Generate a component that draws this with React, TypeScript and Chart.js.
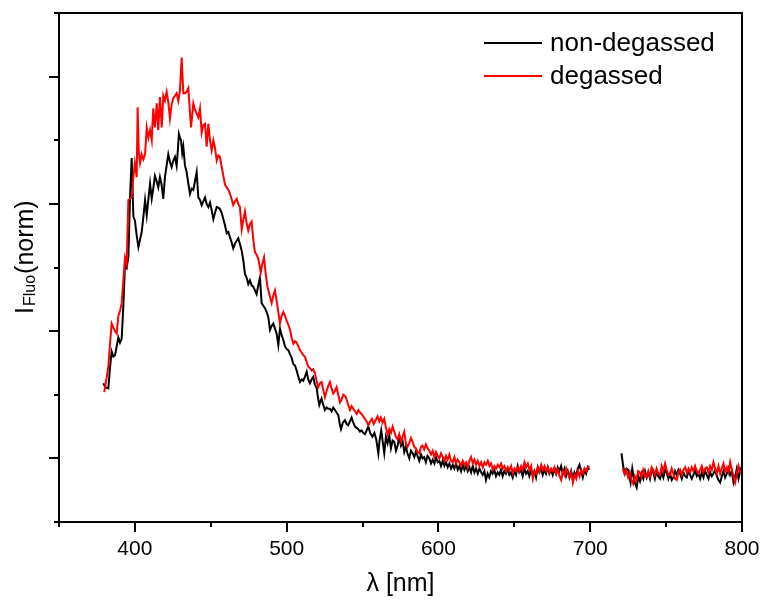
import React, { useEffect, useRef } from 'react';
import { Chart, registerables } from 'chart.js';

Chart.register(...registerables);

const seriesLabels = ['non-degassed', 'degassed'];
const seriesColors = ['#000000', '#ff0000'];

const nonDegassedNm = [
  379.2, 380.5, 382.5, 383.5, 384.7, 385.8, 386.9, 388.0, 389.1, 390.2, 391.3, 392.4, 393.5, 394.6, 395.7, 396.8, 397.9, 399.0, 400.0, 401.2,
  402.3, 403.4, 404.5, 405.6, 406.7, 407.8, 409.0, 410.0, 411.1, 412.1, 413.2, 414.3, 415.4, 416.5, 417.6, 418.7, 419.8, 420.9, 422.0, 423.1,
  424.2, 425.3, 426.4, 427.5, 428.3, 429.0, 429.7, 430.4, 431.2, 431.9, 433.0, 434.1, 435.2, 436.3, 437.4, 438.5, 439.6, 440.7, 441.8, 442.9,
  444.0, 445.1, 446.2, 447.3, 448.4, 449.5, 450.6, 451.7, 452.8, 453.9, 455.0, 456.0, 457.2, 458.3, 459.4, 460.5, 461.6, 462.6, 463.7, 464.8,
  466.0, 467.1, 468.1, 469.3, 470.4, 471.5, 472.5, 473.6, 474.7, 475.8, 476.9, 478.0, 479.1, 480.2, 481.3, 482.4, 483.5, 484.6, 485.7, 486.8,
  487.9, 489.0, 490.1, 491.2, 492.3, 493.4, 494.5, 495.6, 496.7, 497.8, 498.9, 500.0, 501.1, 502.2, 503.3, 504.4, 505.5, 506.6, 507.7, 508.8,
  509.9, 510.9, 512.0, 513.2, 514.2, 515.3, 516.4, 517.5, 518.6, 519.8, 520.6, 521.5, 522.3, 523.0, 524.1, 525.2, 526.3, 527.4, 528.5, 529.6,
  530.7, 531.8, 532.9, 534.0, 535.0, 535.8, 537.0, 538.4, 539.5, 540.6, 541.7, 542.8, 543.9, 545.0, 546.1, 547.2, 548.3, 549.4, 550.5, 551.6,
  552.7, 553.8, 555.0, 556.5, 557.8, 559.0, 560.4, 561.2, 562.3, 563.4, 564.3, 565.4, 566.5, 567.6, 568.7, 569.8, 570.9, 572.0, 573.1, 574.2,
  575.3, 576.4, 577.5, 578.5, 579.6, 580.8, 581.9, 583.0, 584.1, 585.1, 586.2, 587.4, 588.5, 589.5, 590.6, 591.7, 592.8, 594.0, 595.1, 596.2,
  597.3, 598.4, 599.5, 600.6, 601.7, 602.8, 603.9, 605.0, 606.1, 607.2, 608.3, 609.4, 610.5, 611.6, 612.7, 613.8, 614.9, 616.0, 617.1, 618.2,
  619.3, 620.4, 621.5, 622.6, 623.7, 624.8, 625.9, 627.0, 628.1, 629.2, 630.3, 631.3, 632.4, 633.5, 634.6, 635.7, 636.8, 637.9, 639.0, 640.1,
  641.2, 642.3, 643.4, 644.5, 645.6, 646.7, 647.8, 648.9, 650.0, 651.1, 652.2, 653.3, 654.4, 655.5, 656.6, 657.7, 658.8, 659.9, 661.0, 662.1,
  663.2, 664.3, 665.4, 666.5, 667.6, 668.7, 669.8, 670.9, 672.0, 673.1, 674.2, 675.3, 676.4, 677.5, 678.6, 679.7, 680.8, 681.9, 683.0, 684.1,
  685.2, 686.3, 687.4, 688.5, 689.6, 690.7, 691.8, 692.9, 694.0, 695.1, 696.2, 697.3, 698.4, 699.4, 710.0,
  720.6, 721.7, 722.8, 723.9, 725.0, 725.8, 726.6, 727.7, 728.5, 729.6, 730.6, 731.7, 732.8, 733.9, 735.0, 736.1, 737.2, 738.3, 739.4, 740.5,
  741.5, 742.6, 743.7, 744.8, 746.0, 747.1, 748.2, 749.3, 750.4, 751.5, 752.6, 753.7, 754.8, 755.9, 757.0, 758.1, 759.2, 760.3, 761.4, 762.5,
  763.6, 764.7, 765.8, 766.9, 768.0, 769.1, 770.2, 771.3, 772.4, 773.5, 774.6, 775.7, 776.8, 777.9, 779.0, 780.1, 781.2, 782.3, 783.4, 784.5,
  785.6, 786.7, 787.8, 788.9, 790.0, 791.1, 792.2, 793.3, 794.4, 795.5, 796.6, 797.7, 798.8, 799.9,
];
const nonDegassedVal = [
  0.59, 0.56, 0.55, 0.70, 0.84, 0.80, 0.81, 0.88, 0.95, 0.91, 0.94, 1.20, 1.53, 1.50, 1.58, 2.05, 2.36, 1.90, 1.87, 1.75,
  1.66, 1.72, 1.78, 1.90, 2.03, 1.91, 2.05, 2.16, 2.04, 2.12, 2.22, 2.18, 2.13, 2.21, 2.15, 2.04, 2.21, 2.30, 2.39, 2.33,
  2.29, 2.34, 2.37, 2.30, 2.42, 2.55, 2.52, 2.50, 2.40, 2.45, 2.30, 2.25, 2.16, 2.08, 2.12, 2.11, 2.18, 2.25, 2.05, 2.03,
  1.99, 2.02, 2.05, 2.00, 1.975, 2.01, 1.95, 1.88, 1.93, 1.975, 1.97, 1.96, 1.93, 1.88, 1.83, 1.77, 1.78, 1.74, 1.70, 1.65,
  1.69, 1.71, 1.73, 1.68, 1.63, 1.55, 1.45, 1.42, 1.37, 1.40, 1.36, 1.35, 1.32, 1.29, 1.36, 1.42, 1.22, 1.20, 1.18, 1.15,
  1.11, 1.01, 1.04, 1.06, 1.02, 0.98, 0.89, 1.02, 0.97, 0.93, 0.88, 0.86, 0.85, 0.82, 0.79, 0.74, 0.73, 0.69, 0.64, 0.60,
  0.62, 0.61, 0.64, 0.68, 0.62, 0.59, 0.62, 0.64, 0.58, 0.55, 0.48, 0.42, 0.45, 0.47, 0.42, 0.38, 0.40, 0.39, 0.39, 0.37,
  0.40, 0.38, 0.36, 0.34, 0.27, 0.23, 0.28, 0.30, 0.27, 0.26, 0.29, 0.32, 0.28, 0.25, 0.24, 0.23, 0.21, 0.22, 0.20, 0.19,
  0.22, 0.25, 0.20, 0.17, 0.20, 0.15, 0.04, 0.14, 0.22, 0.12, 0.04, 0.17, 0.12, 0.18, 0.08, 0.14, 0.13, 0.06, 0.10, 0.17,
  0.10, 0.13, 0.05, 0.09, 0.04, 0.00, 0.06, 0.04, 0.01, 0.05, 0.02, -0.02, 0.03, 0.00, 0.01, -0.03, 0.02, 0.00, -0.04, -0.01,
  -0.04, 0.01, -0.03, -0.02, -0.06, -0.02, -0.06, -0.03, -0.07, -0.04, -0.08, -0.05, -0.08, -0.04, -0.09, -0.06, -0.10, -0.05, -0.09, -0.06,
  -0.10, -0.07, -0.11, -0.06, -0.11, -0.08, -0.12, -0.08, -0.11, -0.13, -0.10, -0.17, -0.12, -0.15, -0.10, -0.12, -0.09, -0.14, -0.11, -0.13,
  -0.09, -0.14, -0.10, -0.12, -0.08, -0.13, -0.11, -0.15, -0.10, -0.13, -0.06, -0.11, -0.09, -0.14, -0.08, -0.12, -0.10, -0.14, -0.09, -0.13,
  -0.10, -0.15, -0.07, -0.11, -0.08, -0.13, -0.09, -0.12, -0.07, -0.12, -0.09, -0.13, -0.08, -0.12, -0.07, -0.10, -0.06, -0.12, -0.08, -0.14,
  -0.10, -0.15, -0.10, -0.16, -0.11, -0.14, -0.08, -0.05, -0.10, -0.15, -0.09, -0.12, -0.07, -0.09, null,
  0.04, -0.06, -0.12, -0.08, -0.09, -0.14, -0.19, -0.08, -0.14, -0.20, -0.23, -0.14, -0.18, -0.12, -0.16, -0.10, -0.15, -0.11, -0.16, -0.09,
  -0.11, -0.16, -0.10, -0.14, -0.16, -0.11, -0.15, -0.09, -0.11, -0.16, -0.12, -0.17, -0.15, -0.10, -0.13, -0.09, -0.12, -0.16, -0.11, -0.14,
  -0.15, -0.10, -0.13, -0.16, -0.13, -0.09, -0.14, -0.12, -0.16, -0.11, -0.15, -0.10, -0.13, -0.16, -0.11, -0.14, -0.12, -0.09, -0.14, -0.17,
  -0.19, -0.14, -0.10, -0.15, -0.12, -0.08, -0.13, -0.10, -0.19, -0.14, -0.08, -0.16, -0.10, -0.06,
];

const degassedNm = [
  379.8, 381.2, 382.5, 383.6, 384.7, 385.8, 386.9, 388.0, 389.1, 390.2, 391.3, 392.4, 393.5, 394.6, 395.7, 396.8, 397.9, 399.0, 400.0, 401.2,
  401.8, 402.6, 403.4, 404.5, 405.6, 406.7, 407.8, 408.9, 410.0, 411.1, 412.1, 413.2, 414.4, 415.4, 416.5, 417.7, 418.7, 419.8, 420.9, 422.0,
  423.1, 424.2, 425.3, 426.4, 427.5, 428.6, 429.7, 430.8, 431.9, 433.0, 434.1, 435.2, 436.1, 437.0, 437.8, 438.5, 439.6, 440.7, 441.8, 442.9,
  444.0, 445.1, 446.2, 447.3, 448.4, 449.5, 450.6, 451.7, 452.8, 453.9, 455.0, 456.0, 457.2, 458.3, 459.4, 460.5, 461.6, 462.6, 463.7, 464.8,
  466.0, 467.1, 468.1, 469.2, 470.4, 471.5, 472.5, 473.6, 474.7, 475.8, 476.9, 478.0, 479.1, 480.2, 481.3, 482.1, 482.9, 484.0, 485.1, 486.2,
  487.3, 488.4, 489.2, 490.1, 491.2, 492.3, 493.4, 494.5, 495.6, 496.7, 497.8, 498.9, 500.0, 501.1, 502.2, 503.3, 504.4, 505.5, 506.6, 507.7,
  508.8, 509.9, 511.0, 512.0, 513.1, 514.2, 515.3, 516.5, 517.5, 518.6, 519.7, 520.8, 521.9, 523.0, 524.1, 525.2, 526.3, 527.4, 528.5, 529.6,
  530.7, 531.8, 532.9, 534.0, 535.1, 536.2, 537.3, 538.4, 539.0, 540.6, 541.7, 542.8, 543.9, 545.0, 546.1, 547.2, 548.3, 549.4, 550.5, 551.6,
  552.7, 553.8, 555.0, 556.2, 557.4, 558.6, 559.9, 561.0, 562.1, 563.2, 564.3, 565.4, 566.5, 567.6, 568.7, 569.8, 570.9, 572.0, 573.1, 574.2,
  575.3, 576.4, 577.5, 578.5, 579.6, 580.8, 581.9, 583.0, 584.1, 585.1, 586.2, 587.4, 588.5, 589.5, 590.6, 591.7, 592.8, 594.0, 595.1, 596.2,
  597.3, 598.4, 599.5, 600.6, 601.7, 602.8, 603.9, 605.0, 606.1, 607.2, 608.3, 609.4, 610.5, 611.6, 612.7, 613.8, 614.9, 616.0, 617.1, 618.2,
  619.3, 620.4, 621.5, 622.6, 623.7, 624.8, 625.9, 627.0, 628.1, 629.2, 630.3, 631.4, 632.5, 633.6, 634.7, 635.8, 636.9, 638.0, 639.1, 640.2,
  641.3, 642.4, 643.5, 644.6, 645.7, 646.8, 647.9, 649.0, 650.1, 651.2, 652.3, 653.4, 654.5, 655.6, 656.7, 657.8, 658.9, 660.0, 661.1, 662.2,
  663.3, 664.4, 665.5, 666.6, 667.7, 668.8, 669.9, 671.0, 672.1, 673.2, 674.3, 675.4, 676.5, 677.6, 678.7, 679.8, 680.9, 682.0, 683.1, 684.2,
  685.3, 686.4, 687.5, 688.6, 689.7, 690.8, 691.9, 693.0, 694.1, 695.2, 696.3, 697.4, 698.5, 699.4, 710.0,
  721.4, 722.5, 723.6, 725.0, 726.1, 727.2, 728.3, 729.4, 730.5, 731.6, 732.7, 733.8, 734.9, 736.0, 737.2, 738.3, 739.4, 740.5, 741.5, 742.6,
  743.7, 744.8, 746.0, 747.1, 748.2, 749.3, 750.4, 751.5, 752.6, 753.7, 754.8, 755.9, 757.0, 758.1, 759.2, 760.3, 761.4, 762.5, 763.6, 764.7,
  765.8, 766.9, 768.0, 769.1, 770.2, 771.3, 772.4, 773.5, 774.6, 775.7, 776.8, 777.9, 779.0, 780.1, 781.2, 782.3, 783.4, 784.5, 785.6, 786.7,
  787.8, 788.9, 790.0, 791.1, 792.2, 793.3, 794.4, 795.5, 796.6, 797.7, 798.8, 799.9,
];
const degassedVal = [
  0.52, 0.62, 0.72, 0.90, 1.06, 1.03, 1.00, 0.98, 1.12, 1.16, 1.22, 1.40, 1.58, 1.53, 2.03, 2.04, 2.05, 2.21, 2.32, 2.21,
  2.76, 2.40, 2.32, 2.39, 2.35, 2.39, 2.60, 2.52, 2.58, 2.50, 2.75, 2.60, 2.79, 2.58, 2.84, 2.60, 2.85, 2.81, 2.88, 2.80,
  2.67, 2.78, 2.83, 2.85, 2.87, 2.81, 2.89, 3.15, 2.87, 2.87, 2.88, 2.91, 2.75, 2.60, 2.70, 2.79, 2.74, 2.71, 2.68, 2.75,
  2.56, 2.62, 2.63, 2.45, 2.63, 2.50, 2.42, 2.50, 2.44, 2.34, 2.38, 2.37, 2.29, 2.22, 2.15, 2.13, 2.11, 2.08, 2.04, 1.99,
  2.02, 2.04, 2.00, 1.975, 1.80, 1.88, 1.94, 1.85, 1.79, 1.84, 1.86, 1.72, 1.62, 1.60, 1.57, 1.52, 1.46, 1.53, 1.58, 1.45,
  1.35, 1.30, 1.26, 1.22, 1.28, 1.32, 1.24, 1.15, 1.06, 1.12, 1.15, 1.12, 1.08, 1.05, 1.01, 0.95, 0.90, 0.92, 0.91, 0.88,
  0.85, 0.83, 0.81, 0.80, 0.76, 0.72, 0.71, 0.69, 0.70, 0.67, 0.61, 0.56, 0.59, 0.60, 0.54, 0.48, 0.53, 0.57, 0.60, 0.55,
  0.51, 0.53, 0.56, 0.50, 0.44, 0.46, 0.50, 0.49, 0.48, 0.42, 0.38, 0.41, 0.39, 0.37, 0.35, 0.38, 0.36, 0.35, 0.33, 0.31,
  0.29, 0.26, 0.29, 0.31, 0.27, 0.30, 0.33, 0.29, 0.32, 0.28, 0.31, 0.24, 0.19, 0.23, 0.20, 0.25, 0.21, 0.17, 0.15, 0.19,
  0.13, 0.17, 0.21, 0.12, 0.09, 0.12, 0.16, 0.13, 0.09, 0.08, 0.05, 0.04, 0.09, 0.10, 0.07, 0.11, 0.08, 0.06, 0.03, 0.06,
  0.01, 0.05, 0.02, 0.00, 0.04, 0.01, -0.02, 0.02, -0.01, 0.03, -0.02, -0.03, 0.01, -0.04, -0.01, -0.03, -0.06, -0.02, -0.05, -0.03,
  -0.07, -0.02, 0.01, -0.04, -0.01, -0.05, -0.02, -0.06, -0.03, -0.07, -0.03, -0.05, -0.02, -0.06, -0.04, -0.09, -0.06, -0.08, -0.05, -0.07,
  -0.04, -0.08, -0.06, -0.10, -0.07, -0.09, -0.06, -0.12, -0.08, -0.10, -0.07, -0.10, -0.06, -0.09, -0.03, -0.07, -0.04, -0.09, -0.06, -0.16,
  -0.10, -0.12, -0.07, -0.10, -0.05, -0.09, -0.06, -0.10, -0.07, -0.11, -0.08, -0.10, -0.07, -0.12, -0.09, -0.14, -0.17, -0.10, -0.13, -0.08,
  -0.12, -0.15, -0.11, -0.19, -0.13, -0.16, -0.10, -0.14, -0.09, -0.12, -0.08, -0.10, -0.07, -0.06, null,
  -0.08, -0.12, -0.09, -0.15, -0.11, -0.17, -0.20, -0.14, -0.17, -0.10, -0.11, -0.15, -0.09, -0.13, -0.15, -0.10, -0.14, -0.07, -0.09, -0.13,
  -0.08, -0.12, -0.13, -0.06, -0.10, -0.04, -0.09, -0.13, -0.13, -0.08, -0.12, -0.16, -0.17, -0.11, -0.09, -0.13, -0.09, -0.07, -0.11, -0.08,
  -0.11, -0.07, -0.10, -0.06, -0.10, -0.12, -0.09, -0.06, -0.11, -0.08, -0.07, -0.11, -0.06, -0.09, -0.03, -0.08, -0.12, -0.06, -0.12, -0.08,
  -0.04, -0.10, -0.07, -0.11, -0.03, -0.09, -0.14, -0.19, -0.12, -0.06, -0.11, -0.09,
];

const xMajorTicks = [400, 500, 600, 700, 800];
const xMinorTicks = [350, 450, 550, 650, 750];
const yMajorTicks = [0, 1, 2, 3];
const yMinorTicks = [-0.5, 0.5, 1.5, 2.5, 3.5];
const xTitle = 'λ [nm]';
const yTitleMain = 'I';
const yTitleSub = 'Fluo';
const yTitleRest = '(norm)';

const FONT = '"Liberation Sans", Arial, Helvetica, sans-serif';

const framePlugin = {
  id: 'framePlugin',
  afterDraw(chart: any) {
    const ctx = chart.ctx as CanvasRenderingContext2D;
    const { left, right, top, bottom } = chart.chartArea;
    const xs = chart.scales.x;
    const ys = chart.scales.y;
    ctx.save();
    ctx.strokeStyle = '#000';
    ctx.lineWidth = 2;
    ctx.strokeRect(left, top, right - left, bottom - top);

    ctx.beginPath();
    xMajorTicks.forEach((v) => {
      const px = Math.round(xs.getPixelForValue(v));
      ctx.moveTo(px, bottom);
      ctx.lineTo(px, bottom + 10);
    });
    xMinorTicks.forEach((v) => {
      const px = Math.round(xs.getPixelForValue(v));
      ctx.moveTo(px, bottom);
      ctx.lineTo(px, bottom + 5);
    });
    yMajorTicks.forEach((v) => {
      const py = Math.round(ys.getPixelForValue(v));
      ctx.moveTo(left, py);
      ctx.lineTo(left - 10, py);
    });
    yMinorTicks.forEach((v) => {
      const py = Math.round(ys.getPixelForValue(v));
      ctx.moveTo(left, py);
      ctx.lineTo(left - 5, py);
    });
    ctx.stroke();

    ctx.fillStyle = '#000';
    ctx.font = `21px ${FONT}`;
    ctx.textAlign = 'center';
    ctx.textBaseline = 'middle';
    xMajorTicks.forEach((v) => {
      ctx.fillText(String(v), xs.getPixelForValue(v), bottom + 27);
    });

    ctx.font = `25px ${FONT}`;
    ctx.fillText(xTitle, (left + right) / 2, bottom + 62);

    // y title, rotated
    ctx.save();
    ctx.translate(33, 314);
    ctx.rotate(-Math.PI / 2);
    ctx.textAlign = 'left';
    ctx.textBaseline = 'alphabetic';
    ctx.font = `25px ${FONT}`;
    ctx.fillText(yTitleMain, 0, 0);
    let off = ctx.measureText(yTitleMain).width + 1;
    ctx.font = `16px ${FONT}`;
    ctx.fillText(yTitleSub, off, 2);
    off += ctx.measureText(yTitleSub).width + 1;
    ctx.font = `25px ${FONT}`;
    ctx.fillText(yTitleRest, off, 0);
    ctx.restore();

    // legend
    seriesLabels.forEach((lab, i) => {
      const ly = top + 30 + i * 33;
      ctx.beginPath();
      ctx.strokeStyle = seriesColors[i];
      ctx.lineWidth = 2;
      ctx.moveTo(right - 258, ly);
      ctx.lineTo(right - 200, ly);
      ctx.stroke();
      ctx.fillStyle = '#000';
      ctx.font = `26px ${FONT}`;
      ctx.textAlign = 'left';
      ctx.textBaseline = 'middle';
      ctx.fillText(lab, right - 192, ly + 1);
    });
    ctx.restore();
  },
};

export default function App() {
  const ref = useRef<HTMLCanvasElement | null>(null);
  useEffect(() => {
    if (!ref.current) return;
    const mk = (nm: number[], val: (number | null)[]) => nm.map((x, i) => ({ x, y: val[i] }));
    const chart = new Chart(ref.current, {
      type: 'line',
      data: {
        datasets: [
          {
            label: seriesLabels[0],
            data: mk(nonDegassedNm, nonDegassedVal) as any,
            borderColor: seriesColors[0],
            borderWidth: 2,
            pointRadius: 0,
            tension: 0,
            fill: false,
            order: 1,
          },
          {
            label: seriesLabels[1],
            data: mk(degassedNm, degassedVal) as any,
            borderColor: seriesColors[1],
            borderWidth: 2,
            pointRadius: 0,
            tension: 0,
            fill: false,
            order: 0,
          },
        ],
      },
      options: {
        responsive: false,
        animation: false,
        devicePixelRatio: 1,
        layout: { padding: { top: 13, right: 21, left: 0, bottom: 0 } },
        plugins: { legend: { display: false }, tooltip: { enabled: false } },
        scales: {
          x: {
            type: 'linear',
            min: 350,
            max: 800,
            ticks: { display: false },
            grid: { display: false, drawTicks: false },
            border: { display: false },
            afterFit: (s: any) => {
              s.height = 78;
            },
          },
          y: {
            type: 'linear',
            min: -0.5,
            max: 3.5,
            ticks: { display: false },
            grid: { display: false, drawTicks: false },
            border: { display: false },
            afterFit: (s: any) => {
              s.width = 59;
            },
          },
        },
      },
      plugins: [framePlugin],
    });
    return () => chart.destroy();
  }, []);
  return (
    <div style={{ position: 'absolute', left: 0, top: 0, width: 763, height: 600, background: '#fff' }}>
      <canvas ref={ref} width={763} height={600} style={{ display: 'block' }} />
    </div>
  );
}
